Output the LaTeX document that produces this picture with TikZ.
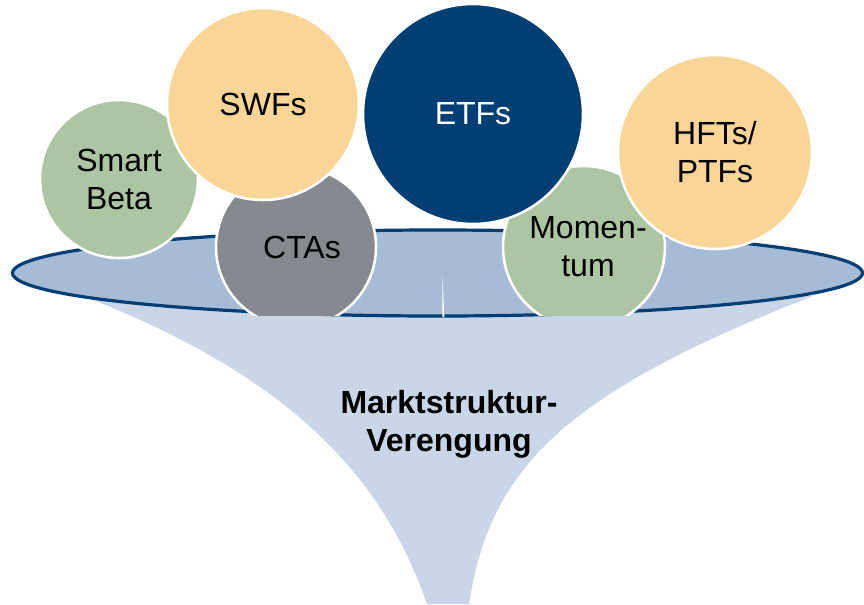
\documentclass[tikz,border=0pt]{standalone}
\usepackage{fontspec}
\setmainfont{Liberation Sans}
\usetikzlibrary{shapes.geometric}
\definecolor{navy}{HTML}{003E74}
\definecolor{sage}{HTML}{ACC5A2}
\definecolor{sand}{HTML}{F9D597}
\definecolor{slate}{HTML}{858A91}
\definecolor{rimblue}{HTML}{A6BBD6}
\definecolor{bodyblue}{HTML}{C8D6E7}

\begin{document}
\begin{tikzpicture}[x=0.75pt,y=-0.75pt,
  bubble/.style={circle, draw=white, line width=1.9pt, inner sep=0pt, minimum size=#1*0.75pt},
  lbl/.style={align=center, font=\fontsize{24}{28.5}\selectfont, text=black, inner sep=0pt},
]
\useasboundingbox (0,0) rectangle (864,604);

% funnel body narrowing to the spout
\fill[bodyblue] (83,296) .. controls (300,380) and (385,484) .. (427,604)
  -- (469,604) .. controls (490,470) and (560,395) .. (813,296) -- cycle;

% funnel rim
\node[ellipse, draw=navy, fill=rimblue, line width=2.4pt, inner sep=0pt,
  minimum width=850*0.75pt, minimum height=86*0.75pt] (rim) at (437.5,273) {};
\fill[white] (442.3,275) -- (444.4,317) -- (442.4,317) -- cycle;

% bubbles above the rim
\node[bubble=158, fill=sage] (smart) at (119,179) {};
\begin{scope}
  \clip (0,0) rectangle (864,315);
  \node[bubble=160, fill=slate] (ctas) at (296,247) {};
\end{scope}
\node[bubble=192, fill=sand] (swfs) at (263,104) {};
\begin{scope}
  \clip (0,0) rectangle (864,315);
  \node[bubble=162, fill=sage] (momentum) at (584,247) {};
\end{scope}
\node[bubble=220, fill=navy] (etfs) at (473,114) {};
\node[bubble=194, fill=sand] (hfts) at (715,152) {};

% labels
\node[lbl] (smartT) at (smart.center) {Smart\\Beta};
\node[lbl] (swfsT) at (swfs.center) {SWFs};
\node[lbl] (ctasT) at ([xshift=4.5pt]ctas.center) {CTAs};
\node[lbl] (momentumT) at ([xshift=3pt]momentum.center) {Momen-\\tum};
\node[lbl, text=white] (etfsT) at (etfs.center) {ETFs};
\node[lbl] (hftsT) at (hfts.center) {HFTs/\\PTFs};
\node[lbl, font=\fontsize{24}{28.5}\selectfont\bfseries] (funnelT) at (449,424) {Marktstruktur-\\Verengung};
\end{tikzpicture}
\end{document}
